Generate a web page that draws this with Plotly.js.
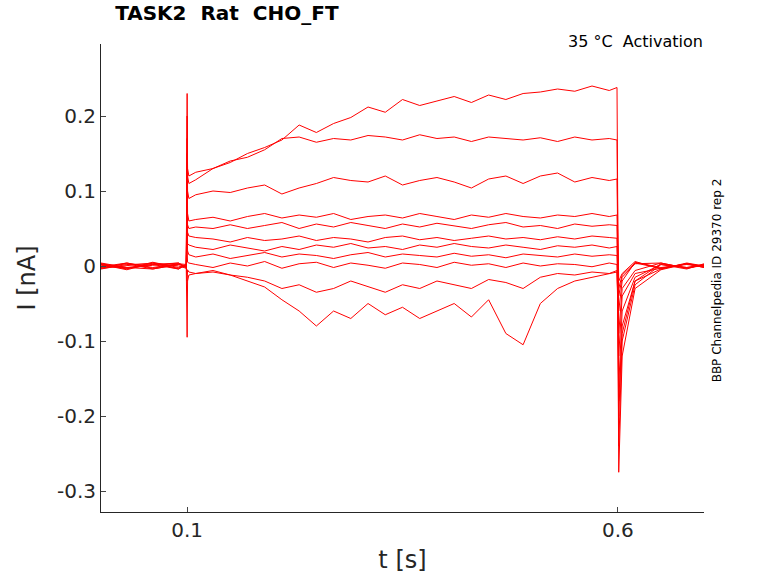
<!DOCTYPE html>
<html>
<head>
<meta charset="utf-8">
<script src="https://cdn.plot.ly/plotly-3.0.1.min.js"></script>
<style>body{margin:0;background:#fff}#chart{width:778px;height:583px}</style>
</head>
<body>
<div id="chart"></div>
<script>
// sample times [s]
var tSec = [0, 0.03, 0.06, 0.09, 0.099, 0.1, 0.1005, 0.102, 0.11, 0.13, 0.15, 0.17, 0.19, 0.21, 0.23, 0.25, 0.27, 0.29, 0.31, 0.33, 0.35, 0.37, 0.39, 0.41, 0.43, 0.45, 0.47, 0.49, 0.51, 0.53, 0.55, 0.57, 0.59, 0.599, 0.6, 0.601, 0.605, 0.62, 0.65, 0.68, 0.7];

// currents [nA], one array per sweep
var sweep1 = [0.002, -0.004, 0.005, -0.002, 0.001, 0.23, 0.12, 0.11, 0.115, 0.13, 0.138, 0.15, 0.158, 0.168, 0.188, 0.178, 0.19, 0.198, 0.212, 0.205, 0.222, 0.214, 0.22, 0.226, 0.218, 0.228, 0.222, 0.23, 0.232, 0.236, 0.233, 0.24, 0.234, 0.238, 0.05, -0.02, -0.01, 0.006, -0.004, 0.004, 0.0];
var sweep2 = [-0.003, 0.004, -0.002, 0.003, -0.001, 0.2, 0.13, 0.12, 0.125, 0.13, 0.14, 0.145, 0.155, 0.17, 0.172, 0.165, 0.17, 0.168, 0.174, 0.172, 0.168, 0.175, 0.17, 0.172, 0.166, 0.172, 0.17, 0.168, 0.171, 0.166, 0.172, 0.168, 0.17, 0.168, 0.03, -0.03, -0.012, 0.004, -0.003, 0.003, -0.002];
var sweep3 = [0.004, -0.002, 0.002, -0.004, 0.002, 0.17, 0.1, 0.09, 0.095, 0.1, 0.098, 0.104, 0.108, 0.096, 0.104, 0.11, 0.118, 0.114, 0.112, 0.12, 0.108, 0.114, 0.118, 0.112, 0.104, 0.116, 0.12, 0.11, 0.12, 0.124, 0.112, 0.118, 0.114, 0.116, 0.02, -0.04, -0.015, 0.003, 0.004, -0.003, 0.001];
var sweep4 = [-0.002, 0.003, -0.004, 0.002, 0.0, 0.15, 0.07, 0.06, 0.062, 0.065, 0.06, 0.066, 0.07, 0.064, 0.068, 0.065, 0.07, 0.062, 0.066, 0.068, 0.064, 0.07, 0.066, 0.062, 0.068, 0.065, 0.07, 0.066, 0.064, 0.068, 0.066, 0.07, 0.066, 0.068, 0.01, -0.06, -0.02, 0.005, -0.002, 0.002, -0.001];
var sweep5 = [0.003, -0.003, 0.001, 0.004, -0.002, 0.12, 0.055, 0.05, 0.052, 0.05, 0.055, 0.05, 0.054, 0.058, 0.05, 0.056, 0.052, 0.058, 0.054, 0.05, 0.056, 0.052, 0.057, 0.053, 0.05, 0.055, 0.058, 0.052, 0.054, 0.05, 0.056, 0.053, 0.055, 0.054, 0.0, -0.09, -0.03, -0.006, 0.004, -0.003, 0.002];
var sweep6 = [-0.004, 0.002, 0.003, -0.003, 0.001, 0.1, 0.045, 0.04, 0.038, 0.036, 0.032, 0.038, 0.034, 0.036, 0.04, 0.034, 0.038, 0.036, 0.032, 0.038, 0.04, 0.035, 0.038, 0.034, 0.037, 0.04, 0.036, 0.038, 0.035, 0.039, 0.036, 0.04, 0.038, 0.037, -0.01, -0.12, -0.04, -0.01, -0.003, 0.003, 0.0];
var sweep7 = [0.002, -0.005, 0.004, 0.0, -0.003, 0.08, 0.03, 0.028, 0.025, 0.022, 0.028, 0.024, 0.02, 0.026, 0.022, 0.028, 0.025, 0.03, 0.024, 0.026, 0.022, 0.028, 0.025, 0.03, 0.026, 0.024, 0.028, 0.025, 0.022, 0.027, 0.025, 0.028, 0.024, 0.026, -0.02, -0.16, -0.06, -0.015, 0.002, -0.004, 0.003];
var sweep8 = [-0.001, 0.004, -0.003, 0.003, 0.002, 0.05, 0.02, 0.015, 0.012, 0.016, 0.01, 0.014, 0.018, 0.012, 0.016, 0.014, 0.01, 0.015, 0.018, 0.012, 0.016, 0.014, 0.012, 0.017, 0.013, 0.015, 0.011, 0.016, 0.014, 0.012, 0.016, 0.013, 0.015, 0.014, -0.03, -0.2, -0.08, -0.02, -0.004, 0.003, -0.002];
var sweep9 = [0.003, -0.002, -0.004, 0.002, -0.001, 0.02, 0.005, 0.004, 0.002, -0.002, 0.004, 0.0, 0.006, -0.003, 0.003, 0.005, -0.002, 0.004, 0.001, -0.003, 0.004, 0.002, -0.002, 0.005, 0.001, 0.003, -0.002, 0.004, 0.0, 0.003, 0.002, -0.001, 0.004, 0.002, -0.05, -0.24, -0.1, -0.025, 0.002, -0.002, 0.001];
var sweep10 = [-0.003, 0.001, 0.004, -0.004, 0.002, -0.02, -0.005, -0.008, -0.01, -0.006, -0.012, -0.015, -0.02, -0.03, -0.025, -0.035, -0.03, -0.02, -0.028, -0.035, -0.025, -0.03, -0.02, -0.025, -0.03, -0.018, -0.022, -0.03, -0.015, -0.01, -0.012, -0.008, -0.01, -0.006, -0.06, -0.275, -0.12, -0.03, -0.005, 0.003, -0.001];
var sweep11 = [0.001, -0.003, 0.002, 0.004, -0.003, -0.095, -0.02, -0.012, -0.01, -0.008, -0.012, -0.02, -0.028, -0.045, -0.06, -0.08, -0.06, -0.07, -0.05, -0.065, -0.055, -0.07, -0.06, -0.05, -0.068, -0.045, -0.09, -0.105, -0.05, -0.03, -0.02, -0.015, -0.01, -0.008, -0.05, -0.18, -0.09, -0.02, 0.003, -0.002, 0.002];

var sweeps = [sweep1, sweep2, sweep3, sweep4, sweep5, sweep6, sweep7, sweep8, sweep9, sweep10, sweep11];

var data = sweeps.map(function (ys) {
    return {type: 'scatter', mode: 'lines', x: tSec, y: ys,
        line: {color: '#ff0000', width: 1}, hoverinfo: 'skip'};
});

var font = {family: 'DejaVu Sans, sans-serif', size: 20, color: '#262626'};
var layout = {
    width: 778, height: 583, showlegend: false,
    paper_bgcolor: '#fff', plot_bgcolor: '#fff',
    margin: {l: 101, r: 74, t: 44, b: 71},
    font: font,
    title: {text: '<b>TASK2  Rat  CHO_FT</b>', x: 0.148, xanchor: 'left', y: 0.99, yanchor: 'top',
        font: {family: 'DejaVu Sans, sans-serif', size: 20, color: '#000'}},
    xaxis: {range: [0, 0.7], tickvals: [0.1, 0.6], ticktext: ['0.1', '0.6'],
        ticks: 'inside', ticklen: 5, showline: true, linecolor: '#262626', mirror: false,
        showgrid: false, zeroline: false, title: {text: 't [s]', standoff: 10}},
    yaxis: {range: [-0.328, 0.296], tickvals: [-0.3, -0.2, -0.1, 0, 0.1, 0.2],
        ticktext: ['-0.3', '-0.2', '-0.1', '0', '0.1', '0.2'],
        ticks: 'inside', ticklen: 5, showline: true, linecolor: '#262626',
        showgrid: false, zeroline: false, title: {text: 'I [nA]', standoff: 14}},
    annotations: [
        {text: '35 °C  Activation', xref: 'paper', yref: 'paper', x: 1, y: 1, xanchor: 'right', yanchor: 'top',
            showarrow: false, font: {family: 'DejaVu Sans, sans-serif', size: 16, color: '#000'}, xshift: 1, yshift: 14},
        {text: 'BBP Channelpedia ID 29370 rep 2', xref: 'paper', yref: 'paper', x: 1, y: 0.495, xanchor: 'left', yanchor: 'middle',
            textangle: -90, showarrow: false, xshift: 4, font: {family: 'DejaVu Sans, sans-serif', size: 12, color: '#000'}}
    ]
};

Plotly.newPlot('chart', data, layout, {displayModeBar: false, staticPlot: true});
</script>
</body>
</html>
